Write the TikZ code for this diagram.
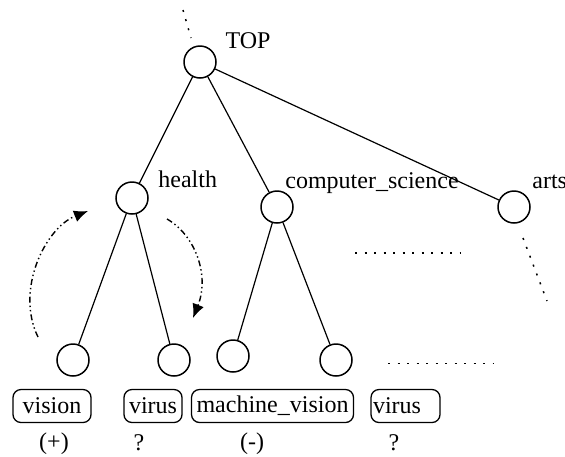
\documentclass[tikz,border=0pt]{standalone}
\usepackage{fontspec}
\setmainfont{Liberation Serif}
\usetikzlibrary{positioning,arrows.meta}

\begin{document}
\begin{tikzpicture}[
		  x=0.5pt, y=-0.5pt,
		  every node/.style={font=\fontsize{12}{14}\selectfont},
		  topic/.style={draw,circle,line width=0.75pt,minimum size=16pt,inner sep=0pt},
		  caption/.style={inner sep=0pt,anchor=base},
		  term/.style={draw,rounded corners=4pt,line width=0.65pt,inner xsep=2.5pt,inner ysep=0pt,minimum height=16.5pt},
		  hint/.style={line width=0.7pt,dash pattern=on 3pt off 1.5pt on 0.7pt off 1.5pt on 0.7pt off 1.5pt},
		  more/.style={line width=0.75pt,dash pattern=on 1pt off 3.75pt}
		]
		\useasboundingbox (0,0) rectangle (565,456);
		% topic tree
		\node[topic] (TOP) at (200,62) {};
		\node[topic] (health) at (132,198) {};
		\node[topic] (cs) at (277,207) {};
		\node[topic] (arts) at (514,207) {};
		\node[topic] (leafA) at (73,360) {};
		\node[topic] (leafB) at (174,360) {};
		\node[topic] (leafC) at (233,356) {};
		\node[topic] (leafD) at (336,360) {};
		\node[caption] (TOPname) at (248,48) {TOP};
		\node[caption,anchor=base west] (healthname) at (158,187) {health};
		\node[caption,anchor=base west] (csname) at (285,188) {computer\_science};
		\node[caption,anchor=base west] (artsname) at (532,188) {arts};
		\path[line width=0.6pt] (TOP) edge (health)
			(TOP) edge (cs)
			(TOP) edge (arts)
			(health) edge (leafA)
			(health) edge (leafB)
			(cs) edge (leafC)
			(cs) edge (leafD);
		% terms
		\node[term,minimum width=39pt] (vision) at (52,406) {vision};
		\node[term] (virusA) at (153,406) {virus};
		\node[term] (mv) at (272.5,406) {machine\_vision};
		\node[term,inner xsep=1pt,text width=32.5pt,align=left] (virusB) at (405.5,406) {virus};
		\node[caption] (plus) at (54,449) {(+)};
		\node[caption] (askA) at (139,450) {?};
		\node[caption] (minus) at (252,449) {(-)};
		\node[caption] (askB) at (394,450) {?};
		% omitted parts
		\coordinate (up1) at (183,10);
		\coordinate (up2) at (191,38);
		\coordinate (mid1) at (355,253);
		\coordinate (mid2) at (460,253);
		\coordinate (low1) at (388,363);
		\coordinate (low2) at (493,363);
		\coordinate (side1) at (523,238);
		\coordinate (side2) at (547,301);
		\draw[more] (up1) -- (up2);
		\draw[more] (mid1) -- (mid2);
		\draw[more,line width=0.5pt] (low1) -- (low2);
		\draw[more] (side1) -- (side2);
		% moves
		\coordinate (goA) at (38,337);
		\coordinate (toA) at (88,211);
		\coordinate (goB) at (167,219);
		\coordinate (toB) at (193,318);
		\draw[hint,-{Latex[length=7pt,width=6pt]}] (goA) .. controls (15,290) and (45,228) .. (toA);
		\draw[hint,-{Latex[length=7pt,width=6pt]}] (goB) .. controls (195,235) and (210,275) .. (toB);
		\end{tikzpicture}
\end{document}
